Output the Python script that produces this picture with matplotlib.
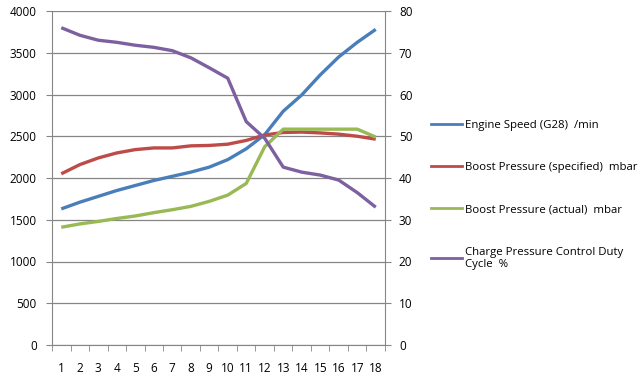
import matplotlib
matplotlib.use("Agg")
import matplotlib.pyplot as plt
from matplotlib.lines import Line2D

x_labels = [str(i) for i in range(1, 19)]
engine_speed = [1630, 1710, 1780, 1850, 1910, 1970, 2020, 2070, 2130, 2220,
                2350, 2520, 2800, 2995, 3235, 3450, 3625, 3780]
boost_specified = [2050, 2160, 2240, 2300, 2340, 2360, 2360, 2385, 2390, 2405,
                   2450, 2515, 2545, 2550, 2540, 2525, 2500, 2465]
boost_actual = [1410, 1450, 1480, 1515, 1545, 1585, 1620, 1660, 1720, 1795,
                1935, 2375, 2585, 2585, 2585, 2585, 2585, 2490]
duty_cycle = [76.0, 74.2, 73.0, 72.5, 71.8, 71.3, 70.5, 68.8, 66.4, 63.9,
              53.5, 49.5, 42.6, 41.4, 40.7, 39.5, 36.5, 33.0]

labels = ["Engine Speed (G28)  /min",
          "Boost Pressure (specified)  mbar",
          "Boost Pressure (actual)  mbar",
          "Charge Pressure Control Duty\nCycle  %"]
colors = ["#4A7EBB", "#BE4B48", "#98B954", "#7D60A0"]

plt.rcParams['font.family'] = ['Open Sans', 'DejaVu Sans']
fig = plt.figure(figsize=(6.43, 3.80), dpi=100)
ax = fig.add_axes([52/643, 1-345/380, (385-52)/643, (345-11)/380])
ax2 = ax.twinx()

xs = list(range(len(x_labels)))
lw = 2.4
ax.plot(xs, engine_speed, color=colors[0], lw=lw, solid_capstyle='butt', zorder=3)
ax.plot(xs, boost_specified, color=colors[1], lw=lw, solid_capstyle='butt', zorder=3)
ax.plot(xs, boost_actual, color=colors[2], lw=lw, solid_capstyle='butt', zorder=3)
ax2.plot(xs, duty_cycle, color=colors[3], lw=lw, solid_capstyle='butt', zorder=3)

ax.set_xlim(-0.5, len(x_labels) - 0.5)
ax.set_ylim(0, 4000)
ax2.set_ylim(0, 80)
ax.set_yticks(range(0, 4001, 500))
ax2.set_yticks(range(0, 81, 10))
ax.set_xticks(xs)
ax.set_xticklabels(x_labels)
ax.set_xticks([i - 0.5 for i in range(len(x_labels) + 1)], minor=True)
ax.tick_params(axis='x', which='major', length=0, pad=12, labelsize=8.5)
ax.tick_params(axis='x', which='minor', length=4, color='#868686', direction='out')
ax.tick_params(axis='y', length=4, color='#868686', labelsize=8.5, pad=7)
ax2.tick_params(axis='y', length=4, color='#868686', labelsize=8.5, pad=6)

ax.grid(axis='y', color='#868686', lw=0.9)
ax.set_axisbelow(True)
for a in (ax, ax2):
    a.spines['top'].set_visible(False)
    for s in ('left', 'right', 'bottom'):
        a.spines[s].set_color('#868686')
ax.spines['right'].set_visible(False)
ax2.spines['left'].set_visible(False)
ax2.spines['bottom'].set_visible(False)

handles = [Line2D([], [], color=c, lw=2.0) for c in colors]
fig.legend(handles, labels, loc='upper left', bbox_to_anchor=(426/643, 1-115/380),
           frameon=False, fontsize=8.2, labelspacing=2.75, handlelength=2.8,
           handletextpad=0.2, borderaxespad=0)

fig.savefig("out.png", dpi=100)
